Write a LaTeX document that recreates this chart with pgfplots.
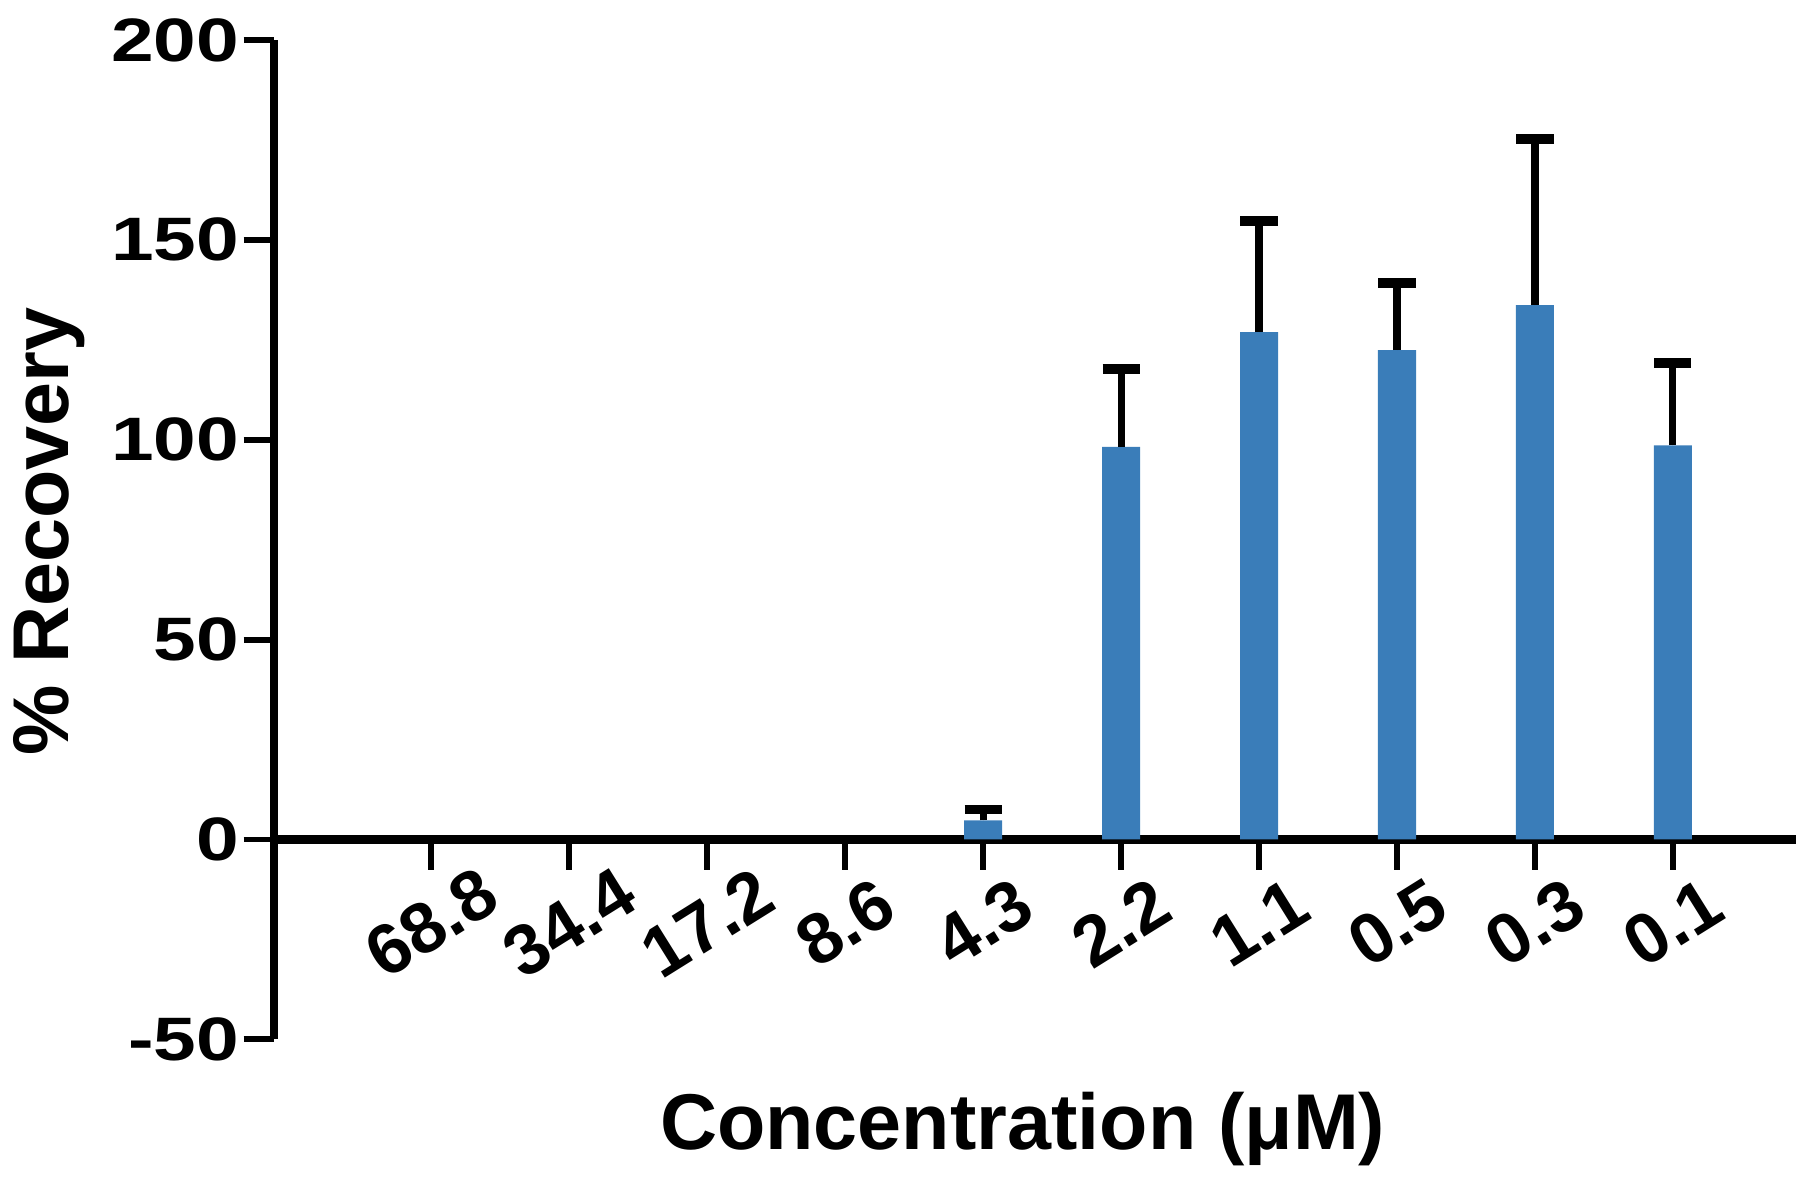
\documentclass[border=0pt]{standalone}
\usepackage{fontspec}
\setmainfont{Liberation Sans}
\newfontfamily\widefont[FakeStretch=1.25]{Liberation Sans}
\usepackage{pgfplots}
\pgfplotsset{compat=1.18}
\definecolor{barblue}{RGB}{58,125,185}

\begin{document}
\begin{tikzpicture}
\begin{axis}[
  scale only axis, width=13.52cm, height=8.88cm,
  xmin=-1.14, xmax=9.89, ymin=-50, ymax=200,
  axis x line=middle, axis y line=left,
  axis line style={-, line width=2.2pt},
  ytick={-50,0,50,100,150,200},
  xtick={0,...,9},
  xticklabels={68.8,34.4,17.2,8.6,4.3,2.2,1.1,0.5,0.3,0.1},
  tick align=outside,
  major tick length=0.27cm,
  tick style={line width=1.5pt, black},
  /pgf/number format/assume math mode=true,
  yticklabel style={font=\widefont\bfseries\fontsize{15.5}{16}\selectfont, inner sep=1pt},
  xticklabel style={font=\bfseries\fontsize{18}{19}\selectfont, yshift=-0.47cm, rotate=32, anchor=center, inner sep=0pt},
  every axis y label/.style={at={(axis description cs:-0.148,0.508)}, rotate=90, anchor=center, font=\bfseries\fontsize{20}{22}\selectfont},
  every axis x label/.style={at={(axis description cs:0.492,0)}, anchor=center, yshift=-0.8cm, font=\bfseries\fontsize{20}{22}\selectfont},
  ylabel={\% Recovery},
  xlabel={Concentration (μM)},
  clip=false,
]
\addplot[ybar, bar width=0.338cm, fill=barblue, draw=none,
  error bars/.cd, y dir=plus, y explicit,
  error bar style={line width=1.8pt, black},
  error mark options={rotate=90, line width=2.5pt, mark size=0.165cm, black}]
  coordinates {
    (4,4.8) +- (0,2.7)
    (5,98.2) +- (0,19.5)
    (6,126.9) +- (0,27.8)
    (7,122.4) +- (0,16.8)
    (8,133.7) +- (0,41.5)
    (9,98.6) +- (0,20.6)
  };
% extra room above the top tick, as in the original figure
\path (axis cs:-1,210);
\end{axis}
\end{tikzpicture}
\end{document}
